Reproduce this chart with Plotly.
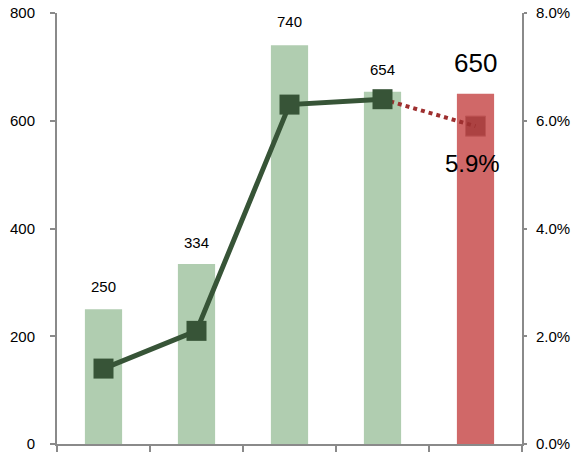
import plotly.graph_objects as go

categories = ["1", "2", "3", "4", "5"]
bar_values = [250, 334, 740, 654, 650]
rate_values = [0.014, 0.021, 0.063, 0.064, 0.059]
bar_colors = ["#b0cdb0", "#b0cdb0", "#b0cdb0", "#b0cdb0", "#d06868"]

xpos = list(range(len(categories)))
FONT = "Liberation Sans, Arial, sans-serif"

fig = go.Figure()
fig.add_trace(go.Bar(x=xpos, y=bar_values, marker_color=bar_colors, width=0.4,
                     marker_line_width=0, showlegend=False, yaxis="y"))
# dotted projection segment
fig.add_trace(go.Scatter(x=xpos[3:], y=rate_values[3:], yaxis="y2", mode="lines+markers",
                         line=dict(color="#9e2f2f", width=4, dash="dot"),
                         marker=dict(symbol="square", size=[0, 20], color="#9e3333",
                                     line=dict(color="#b44a4a", width=1)),
                         showlegend=False))
fig.add_trace(go.Scatter(x=xpos[:4], y=rate_values[:4], yaxis="y2", mode="lines+markers",
                         line=dict(color="#375437", width=5),
                         marker=dict(symbol="square", size=20, color="#375437"),
                         showlegend=False))

shifts = [23, 22, 24, 22, 31]
sizes = [15, 15, 15, 15, 26]
for i, v in enumerate(bar_values):
    fig.add_annotation(x=xpos[i], y=v, yref="y", text=str(v), showarrow=False,
                       yanchor="middle", yshift=shifts[i],
                       font=dict(size=sizes[i], color="#000", family=FONT))
fig.add_annotation(x=xpos[4], y=rate_values[4], yref="y2", text=f"{rate_values[4]*100:.1f}%",
                   showarrow=False, yanchor="middle", yshift=-37, xshift=-3,
                   font=dict(size=24, color="#000", family=FONT))

axis_col = "#8a8a8a"
fig.update_layout(
    width=574, height=455,
    margin=dict(l=57, r=52, t=13, b=11, autoexpand=False),
    plot_bgcolor="white", paper_bgcolor="white",
    font=dict(family=FONT, size=15, color="#000"),
    bargap=0.6,
    xaxis=dict(range=[-0.5, 4.5], tickvals=[-0.5, 0.5, 1.5, 2.5, 3.5, 4.5], ticktext=[""] * 6,
               ticks="outside", ticklen=6, tickcolor=axis_col, tickwidth=1.5, automargin=False,
               showline=True, linecolor=axis_col, linewidth=2, showgrid=False, zeroline=False),
    yaxis=dict(range=[0, 800], dtick=200, ticks="outside", ticklen=5, tickcolor=axis_col,
               tickwidth=1.5, showline=True, linecolor=axis_col, linewidth=2, automargin=False,
               showgrid=False, zeroline=False, ticklabelstandoff=12,
               tickfont=dict(size=15)),
    yaxis2=dict(range=[0, 0.08], dtick=0.02, tickformat=".1%", overlaying="y", side="right",
                ticks="outside", ticklen=3, tickcolor=axis_col, tickwidth=1.5, automargin=False,
                showline=True, linecolor=axis_col, linewidth=2, showgrid=False,
                zeroline=False, ticklabelstandoff=6, tickfont=dict(size=15)),
)

fig.write_html("out.html", config={"displayModeBar": False},
               post_script="document.body.style.margin='0';document.body.style.overflow='hidden';")
